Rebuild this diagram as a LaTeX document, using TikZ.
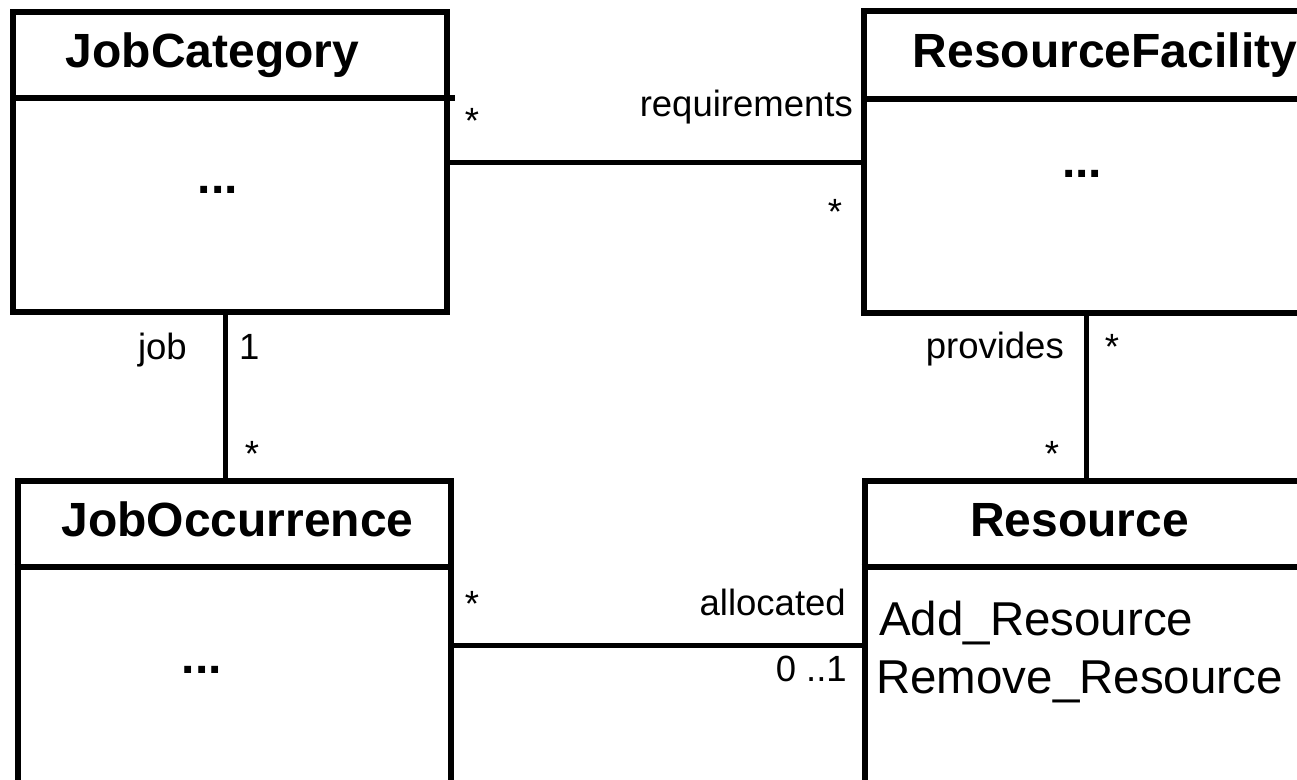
\documentclass[tikz,border=0pt]{standalone}
\usepackage{fontspec}
\setmainfont{Liberation Sans}
\tikzset{
  classbox/.style={draw, line width=6pt, rectangle, inner sep=0pt},
  divider/.style={line width=6pt},
  assoc/.style={line width=5pt},
  title/.style={inner sep=0pt, anchor=base, font=\fontsize{48}{52}\selectfont\bfseries},
  dots/.style={inner sep=0pt, anchor=base, font=\fontsize{48}{52}\selectfont\bfseries},
  role/.style={inner sep=0pt, font=\fontsize{36.5}{40}\selectfont},
  op/.style={inner sep=0pt, anchor=base west, font=\fontsize{47.5}{52}\selectfont},
}
\begin{document}
\begin{tikzpicture}[x=1pt, y=-1pt]
\useasboundingbox (0,0) rectangle (1297,779);
\clip (0,0) rectangle (1297,779);

% class boxes (the right-hand and lower ones run past the page edge)
\node[classbox, minimum width=434pt, minimum height=300pt] (jc) at (230,162) {};
\node[classbox, minimum width=445pt, minimum height=302pt] (rf) at (1086.5,162) {};
\node[classbox, minimum width=433.5pt, minimum height=330pt] (jo) at (234.25,645.5) {};
\node[classbox, minimum width=444pt, minimum height=330pt] (res) at (1086.5,645.5) {};

% compartment dividers
\draw[divider] ([xshift=4pt,yshift=-89pt]jc.north west) -- ([xshift=5pt,yshift=-89pt]jc.north east);
\draw[divider] ([yshift=-91pt]rf.north west) -- ([yshift=-91pt]rf.north east);
\draw[divider] ([yshift=-89.5pt]jo.north west) -- ([yshift=-89.5pt]jo.north east);
\draw[divider] ([yshift=-89.5pt]res.north west) -- ([yshift=-89.5pt]res.north east);

% class names
\node[title] (jcT) at (212.5,67) {JobCategory};
\node[title] (rfT) at (1105,67) {ResourceFacility};
\node[title] (joT) at (237.5,536) {JobOccurrence};
\node[title] (resT) at (1079.5,536) {Resource};

% compartment contents
\node[dots] (jcD) at (218,193) {...};
\node[dots] (rfD) at (1082,177) {...};
\node[dots] (joD) at (202,673) {...};
\node[op] (opAdd) at (879,635) {Add\_Resource};
\node[op] (opRem) at (876,693) {Remove\_Resource};

% associations
\coordinate (jobX) at (225,0);
\draw[assoc] (jc.east) -- (rf.west);
\draw[assoc] (jo.east) -- (res.west);
\draw[assoc] (jc.south -| jobX) -- (jo.north -| jobX);
\draw[assoc] (rf.south) -- (res.north);

% roles and multiplicities
\node[role, anchor=base] (m1) at (472,133) {*};
\node[role, anchor=base east] (rReq) at (853,116) {requirements};
\node[role, anchor=base] (m2) at (835,224) {*};
\node[role, anchor=base east] (rJob) at (187,359) {job};
\node[role, anchor=base west] (m3) at (239,359) {1};
\node[role, anchor=base] (m4) at (252,466) {*};
\node[role, anchor=base east] (rProv) at (1064,358) {provides};
\node[role, anchor=base] (m5) at (1112,359) {*};
\node[role, anchor=base] (m6) at (1052,466) {*};
\node[role, anchor=base] (m7) at (472,616) {*};
\node[role, anchor=base east] (rAlloc) at (846,615) {allocated};
\node[role, anchor=base east] (m8) at (847,681) {0 ..1};
\end{tikzpicture}
\end{document}
